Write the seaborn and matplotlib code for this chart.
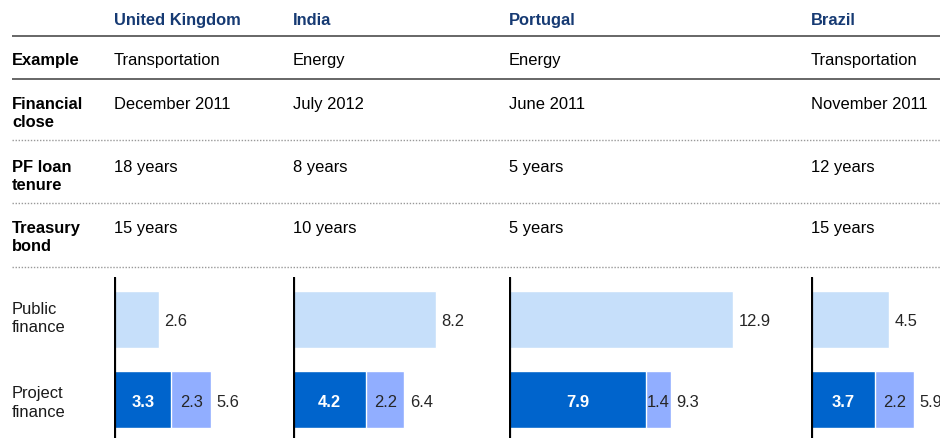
import matplotlib
matplotlib.use("Agg")
import matplotlib.pyplot as plt
import seaborn as sns
import pandas as pd

# table content
countries = ["United Kingdom", "India", "Portugal", "Brazil"]
row_labels = ["Example", "Financial\nclose", "PF loan\ntenure", "Treasury\nbond"]
example = ["Transportation", "Energy", "Energy", "Transportation"]
financial_close = ["December 2011", "July 2012", "June 2011", "November 2011"]
pf_loan_tenure = ["18 years", "8 years", "5 years", "12 years"]
treasury_bond = ["15 years", "10 years", "5 years", "15 years"]

# bar values
bar_cats = ["Public\nfinance", "Project\nfinance"]
public_finance = [2.6, 8.2, 12.9, 4.5]
project_dark = [3.3, 4.2, 7.9, 3.7]
project_light = [2.3, 2.2, 1.4, 2.2]
project_total = [5.6, 6.4, 9.3, 5.9]

c_public = "#c6dffa"
c_dark = "#0064cc"
c_mid = "#91aeff"
c_head = "#163a73"

sns.set_theme(style="white")
plt.rcParams["font.family"] = ["Liberation Sans", "DejaVu Sans"]
FS = 11.9

W, H = 940, 439
fig = plt.figure(figsize=(W / 100, H / 100), dpi=100)

# background axes in pixel coords for the table part
bg = fig.add_axes([0, 0, 1, 1])
bg.set_xlim(0, W)
bg.set_ylim(H, 0)
bg.axis("off")

col_x = [114, 293, 509, 811]
label_x = 12
line_gap = 18.5

# header
for x, c in zip(col_x, countries):
    bg.text(x, 25, c, fontsize=FS, fontweight="bold", color=c_head, va="baseline")

# separator lines
for y in [37, 80]:
    bg.plot([12, W], [y, y], color="#666666", lw=1.4, solid_capstyle="butt")
for y in [141, 204, 268]:
    bg.plot([12, W], [y, y], color="#999999", lw=1.0, ls=(0, (1, 1.2)))

rows = [example, financial_close, pf_loan_tenure, treasury_bond]
baselines = [65, 109, 172, 233]
for lab, vals, yb in zip(row_labels, rows, baselines):
    for k, part in enumerate(lab.split("\n")):
        bg.text(label_x, yb + k * line_gap, part, fontsize=FS, fontweight="bold",
                color="black", va="baseline")
    for x, v in zip(col_x, vals):
        bg.text(x, yb, v, fontsize=FS, color="black", va="baseline")

# bar row labels
for lab, yb in zip(bar_cats, [314, 398.5]):
    for k, part in enumerate(lab.split("\n")):
        bg.text(label_x, yb + k * line_gap, part, fontsize=FS, color="#1a1a1a", va="baseline")

# bar panels
px_per_unit = 17.4
top_px, c0_px, step_px = 278, 320, 80.8
bar_w = 57 / step_px
for i, x0 in enumerate(col_x):
    w = min(290, W - x0)
    ax = fig.add_axes([x0 / W, 0, w / W, (H - top_px) / H])
    ax.patch.set_alpha(0)
    tot = pd.DataFrame({"cat": bar_cats,
                        "val": [public_finance[i], project_total[i]]})
    sns.barplot(data=tot, x="val", y="cat", hue="cat", order=bar_cats,
                palette={bar_cats[0]: c_public, bar_cats[1]: c_mid}, saturation=1,
                width=bar_w, edgecolor="white", linewidth=1, legend=False, ax=ax)
    dark = pd.DataFrame({"cat": [bar_cats[1]], "val": [project_dark[i]]})
    sns.barplot(data=dark, x="val", y="cat", order=bar_cats, color=c_dark,
                saturation=1, width=bar_w, edgecolor="white", linewidth=1, ax=ax)
    ax.set_xlim(0, w / px_per_unit)
    ax.set_ylim((H - c0_px) / step_px, -(c0_px - top_px) / step_px)
    ax.axis("off")
    ax.axvline(0, color="black", lw=2.3, zorder=5)

    off = (3.8, -4.2)
    ax.annotate(f"{public_finance[i]}", (public_finance[i], 0), xytext=off,
                textcoords="offset points", va="baseline", ha="left", fontsize=FS,
                annotation_clip=False)
    ax.annotate(f"{project_total[i]}", (project_total[i], 1), xytext=off,
                textcoords="offset points", va="baseline", ha="left", fontsize=FS,
                annotation_clip=False)
    ax.annotate(f"{project_dark[i]}", (project_dark[i] / 2, 1), xytext=(0, -4.2),
                textcoords="offset points", va="baseline", ha="center", fontsize=FS,
                color="white", fontweight="bold")
    ax.annotate(f"{project_light[i]}", (project_dark[i] + project_light[i] / 2, 1),
                xytext=(0, -4.2), textcoords="offset points", va="baseline",
                ha="center", fontsize=FS)

fig.savefig("out.png", dpi=100)
